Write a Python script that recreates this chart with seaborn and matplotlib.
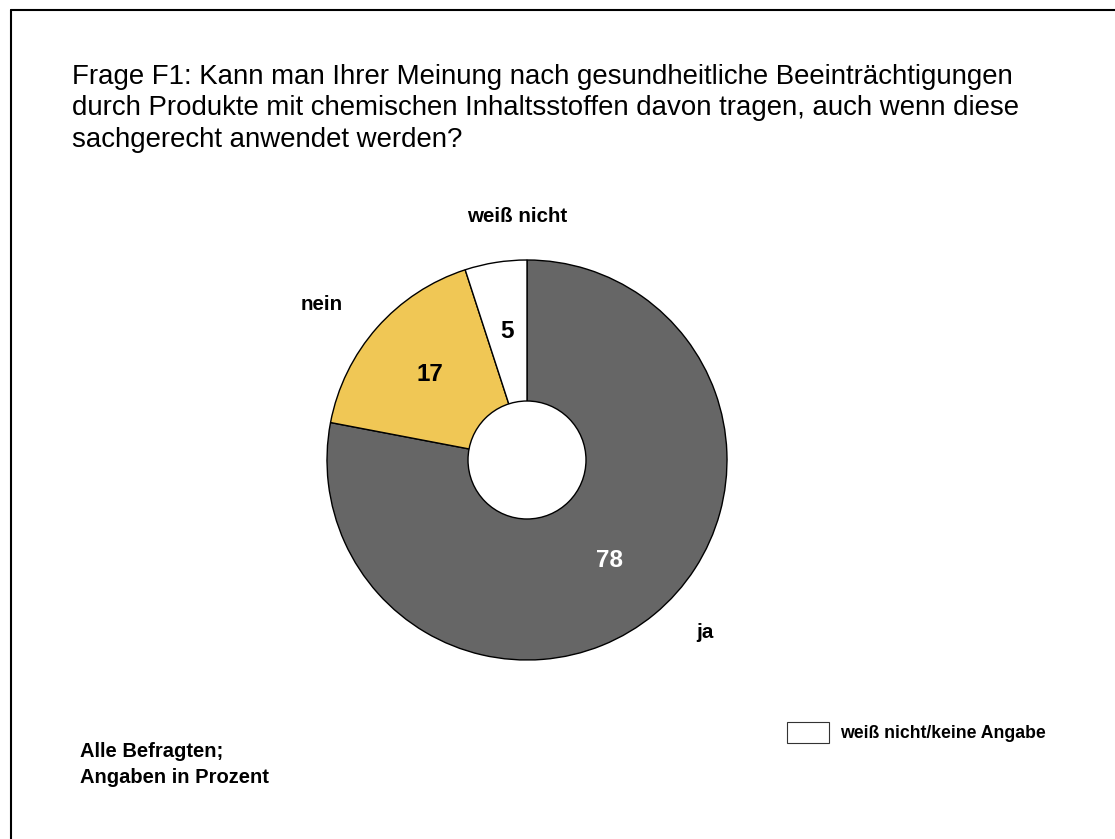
import matplotlib
matplotlib.use("Agg")
import matplotlib.pyplot as plt
import seaborn as sns
from matplotlib.patches import Circle, Rectangle
from matplotlib.lines import Line2D
import numpy as np

categories = ["ja", "nein", "weiß nicht"]
values = [78, 17, 5]
colors = ["#666666", "#F0C755", "#FFFFFF"]
value_colors = ["white", "black", "black"]
title = ("Frage F1: Kann man Ihrer Meinung nach gesundheitliche Beeinträchtigungen\n"
         "durch Produkte mit chemischen Inhaltsstoffen davon tragen, auch wenn diese\n"
         "sachgerecht anwendet werden?")
footnote = "Alle Befragten;\nAngaben in Prozent"
legend_label = "weiß nicht/keine Angabe"

sns.set_theme(style="white")
plt.rcParams["font.family"] = ["Liberation Sans", "DejaVu Sans"]
plt.rcParams["text.color"] = "black"

W, H = 1115, 839
fig = plt.figure(figsize=(W / 100, H / 100), dpi=100)
fig.patch.set_facecolor("white")
ax = fig.add_axes([0, 0, 1, 1])

cx, cy, R = 527, H - 460, 200
wedges, _ = ax.pie(values, colors=colors, startangle=90, counterclock=False,
                   center=(cx, cy), radius=R,
                   wedgeprops=dict(edgecolor="black", linewidth=1.0))
ax.add_patch(Circle((cx, cy), 59, facecolor="white", edgecolor="black", linewidth=1.0, zorder=5))

# value labels along each wedge's mid-angle
for w, v, c in zip(wedges, values, value_colors):
    ang = np.deg2rad((w.theta1 + w.theta2) / 2)
    ax.text(cx + 130 * np.cos(ang), cy + 130 * np.sin(ang), str(v), color=c,
            fontsize=17.5, fontweight="bold", ha="center", va="center", zorder=6)

# category labels
label_pos = {"ja": (705, 633), "nein": (322, 305), "weiß nicht": (517, 216)}
for cat in categories:
    x, y = label_pos[cat]
    ax.text(x, H - y, cat, fontsize=14.8, fontweight="bold", color="black", ha="center", va="center")

ax.set_xlim(0, W)
ax.set_ylim(0, H)
ax.set_aspect("equal")
ax.axis("off")

# title and footnote
fig.text(72 / W, 1 - 64 / H, title, fontsize=19.9, color="black", ha="left", va="top", linespacing=1.27)
fig.text(80 / W, 1 - 742 / H, footnote, fontsize=14.5, fontweight="bold", color="black",
         ha="left", va="top", linespacing=1.45)

# legend box
ax.add_patch(Rectangle((787, H - 743), 42, 21, facecolor="white", edgecolor="#333333", linewidth=0.8))
ax.text(840, H - 733, legend_label, fontsize=12.7, fontweight="bold", color="black", ha="left", va="center")

# frame lines (left and top only)
fig.add_artist(Line2D([11 / W, 11 / W], [0, 1 - 10 / H], color="black", linewidth=1.5, transform=fig.transFigure))
fig.add_artist(Line2D([11 / W, 1], [1 - 10 / H, 1 - 10 / H], color="black", linewidth=1.5, transform=fig.transFigure))

fig.savefig("out.png", dpi=100, facecolor="white")
